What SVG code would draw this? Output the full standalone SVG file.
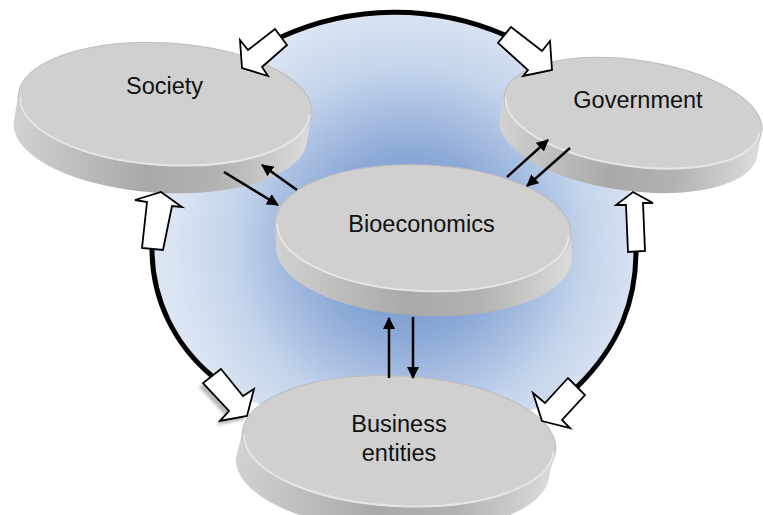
<svg xmlns="http://www.w3.org/2000/svg" width="763" height="515" viewBox="0 0 763 515">
<defs>
<radialGradient id="blue" gradientUnits="userSpaceOnUse" cx="410" cy="245" r="240">
<stop offset="0" stop-color="#5f86c6"/>
<stop offset="0.4" stop-color="#8eabd8"/>
<stop offset="0.75" stop-color="#c6d5ec"/>
<stop offset="1" stop-color="#dce6f3"/>
</radialGradient>
<linearGradient id="side" x1="0" y1="0" x2="1" y2="0">
<stop offset="0" stop-color="#d2d2d2"/>
<stop offset="0.45" stop-color="#a9a9a9"/>
<stop offset="0.7" stop-color="#b2b2b2"/>
<stop offset="1" stop-color="#dcdcdc"/>
</linearGradient>
<marker id="ah" markerWidth="12" markerHeight="12" refX="11" refY="6" orient="auto" markerUnits="userSpaceOnUse">
<path d="M0,0 L12,6 L0,12 Z" fill="#000"/>
</marker>
<filter id="sh" x="-20%" y="-20%" width="140%" height="140%">
<feGaussianBlur stdDeviation="1.5"/>
</filter>
<style>
.side{fill:url(#side)}
.top{fill:#d0d0d0;stroke:#bcbcbc;stroke-width:1}
.rim{fill:none;stroke:#e6e6e6;stroke-width:2}
.ring{fill:none;stroke:#000;stroke-width:5}
.lbl{font-family:"Liberation Sans",Arial,sans-serif;font-size:23.5px;fill:#111;text-anchor:middle}
.con{stroke:#000;stroke-width:2.5;fill:none;marker-end:url(#ah)}
.blk{fill:#fff;stroke:#000;stroke-width:1.8;stroke-linejoin:miter}
</style>
</defs>

<g id="background">
<path d="M281,37 A275,275 0 0 1 505,35 C580,70 636,150 636,251 C636,300 620,345 577,387 C520,440 270,440 212,376 C175,345 152,300 152,249 C152,150 200,80 281,37 Z" fill="url(#blue)"/>
</g>

<g id="cycle-ring">
<path class="ring" d="M281,37 A275,275 0 0 1 505,35"/>
<path class="ring" d="M152,249 C152,300 175,345 212,376"/>
<path class="ring" d="M636,251 C636,300 620,345 577,387"/>
</g>

<g id="society">
<g transform="translate(165,104) rotate(3.5)">
<path class="side" d="M-147,0 L-150,28 A147,61 0 0 0 144,28 L147,0 A147,61 0 0 0 -147,0 Z"/>
<ellipse class="top" rx="147" ry="61"/>
<path class="rim" d="M-145,2 A145,59 0 0 0 145,2"/>
</g>
<text class="lbl" x="164.5" y="94">Society</text>
</g>

<g id="government">
<g transform="translate(633,113) rotate(8)">
<path class="side" d="M-130,0 L-131,25 A130,53 0 0 0 129,25 L130,0 A130,53 0 0 0 -130,0 Z"/>
<ellipse class="top" rx="130" ry="53"/>
<path class="rim" d="M-128,2 A128,51 0 0 0 128,2"/>
</g>
<text class="lbl" x="638" y="108">Government</text>
</g>

<g id="bioeconomics">
<g transform="translate(423,228) rotate(2.5)">
<path class="side" d="M-148,0 L-146,25 A148,63 0 0 0 150,25 L148,0 A148,63 0 0 0 -148,0 Z"/>
<ellipse class="top" rx="148" ry="63"/>
<path class="rim" d="M-146,2 A146,61 0 0 0 146,2"/>
</g>
<text class="lbl" x="421.5" y="232">Bioeconomics</text>
</g>

<g id="business-entities">
<g transform="translate(399,441) rotate(3)">
<path class="side" d="M-157,0 L-162,26 A157,65 0 0 0 152,26 L157,0 A157,65 0 0 0 -157,0 Z"/>
<ellipse class="top" rx="157" ry="65"/>
<path class="rim" d="M-155,2 A155,63 0 0 0 155,2"/>
</g>
<text class="lbl" x="399" y="432">Business</text>
<text class="lbl" x="399" y="461">entities</text>
</g>

<g id="connectors">
<line class="con" x1="224" y1="172" x2="278" y2="205"/>
<line class="con" x1="297" y1="190" x2="262" y2="165"/>
<line class="con" x1="507" y1="177" x2="548" y2="140"/>
<line class="con" x1="570" y1="148" x2="527" y2="186"/>
<line class="con" x1="389" y1="378" x2="389" y2="318"/>
<line class="con" x1="413" y1="317" x2="413" y2="378"/>
</g>

<g id="block-arrows">
<polygon class="blk" points="275,29 287,45 262,67 268,76 242,68 240,40 248,50"/>
<polygon class="blk" points="511,27 542,51 550,41 552,70 523,76 528,70 498,43"/>
<polygon class="blk" points="161,192 182,207 172,206 163,250 142,248 147,202 135,200"/>
<polygon class="blk" points="633,192 653,203 643,203 645,251 628,252 626,205 616,205"/>
<polygon points="221,369 243,396 254,389 247,416 220,421 229,411 203,383" fill="#888" opacity="0.6" filter="url(#sh)" transform="translate(-4,4)"/>
<polygon class="blk" points="221,369 243,396 254,389 247,416 220,421 229,411 203,383"/>
<polygon class="blk" points="568,378 545,403 533,393 542,421 570,428 562,420 585,395"/>
</g>
</svg>
